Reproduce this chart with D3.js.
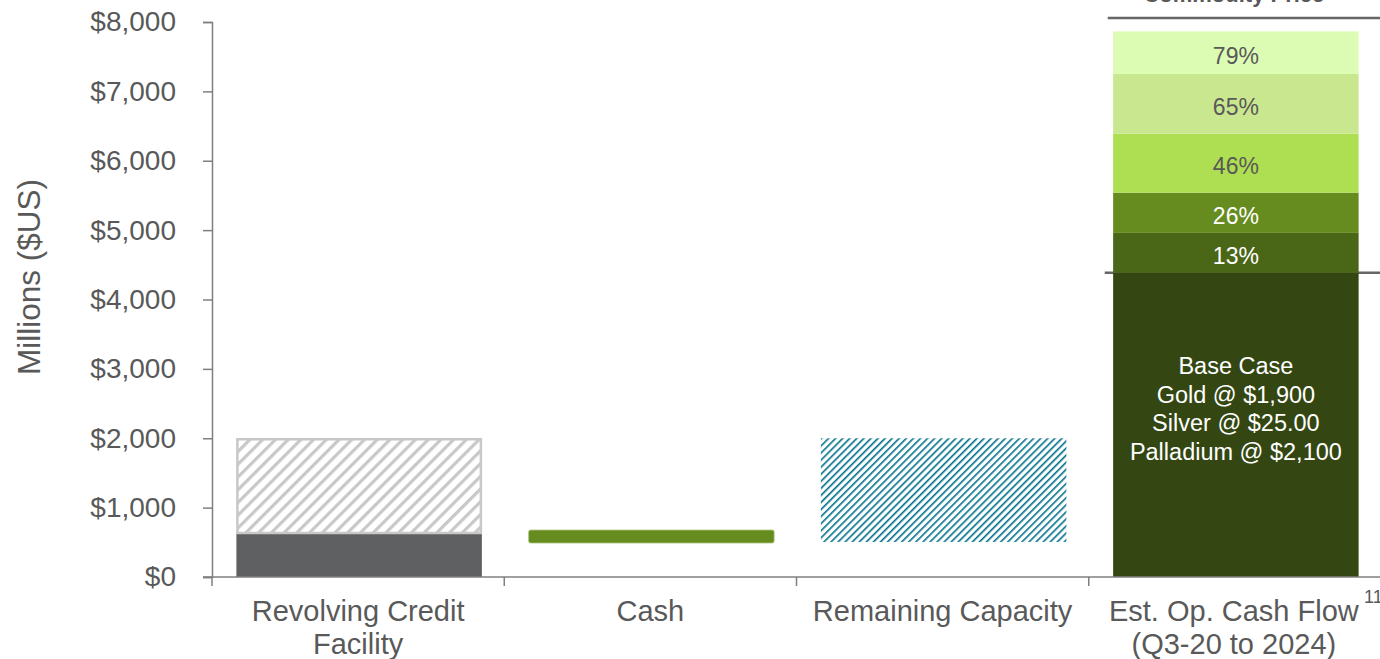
<!DOCTYPE html>
<html>
<head>
<meta charset="utf-8">
<script src="https://cdn.jsdelivr.net/npm/d3@7"></script>
<style>
  body { margin: 0; background: #fff; }
  svg { display: block; font-family: "Liberation Sans", Arial, sans-serif; }
</style>
</head>
<body>
<div id="chart"></div>
<script>
// categories along the bottom
const categories = ["Revolving Credit Facility", "Cash", "Remaining Capacity", "Est. Op. Cash Flow"];
const catLines = [["Revolving Credit", "Facility"], ["Cash"], ["Remaining Capacity"], ["Est. Op. Cash Flow", "(Q3-20 to 2024)"]];

// revolver: drawn part and the undrawn (hatched) part, millions
const revolverDrawn = [0, 620];
const revolverUndrawn = [620, 2000];
// cash and remaining capacity (floating)
const cashRange = [490, 677];
const capacityRange = [505, 2000];

// est. op. cash flow stack: base case then commodity price upside
const cfLabels = ["Base", "13%", "26%", "46%", "65%", "79%"];
const cfTops = [4385, 4960, 5540, 6390, 7250, 7865];
const cfColors = ["#344712", "#4a6617", "#668c1f", "#aedf52", "#c9e78f", "#dcfcb4"];
const cfText = ["#fff", "#fff", "#fff", "#595959", "#595959", "#595959"];
const baseCaseText = ["Base Case", "Gold @ $1,900", "Silver @ $25.00", "Palladium @ $2,100"];

const yTicks = [0, 1000, 2000, 3000, 4000, 5000, 6000, 7000, 8000];

const W = 1380, H = 659;
const svg = d3.select("#chart").append("svg")
    .attr("width", W).attr("height", H);

const defs = svg.append("defs");
defs.append("pattern")
    .attr("id", "grayHatch")
    .attr("patternUnits", "userSpaceOnUse")
    .attr("width", 9).attr("height", 9)
    .attr("patternTransform", "rotate(45)")
  .append("rect")
    .attr("x", 0).attr("y", 0).attr("width", 3.2).attr("height", 9)
    .attr("fill", "#c8c8c8");
defs.append("pattern")
    .attr("id", "blueHatch")
    .attr("patternUnits", "userSpaceOnUse")
    .attr("width", 5).attr("height", 5)
    .attr("patternTransform", "rotate(45)")
  .append("rect")
    .attr("x", 0).attr("y", 0).attr("width", 1.6).attr("height", 5)
    .attr("fill", "#00708a");

const y = d3.scaleLinear().domain([0, 8000]).range([577, 22]);
const x = d3.scaleBand().domain(categories).range([212, 1381]).padding(0);
const barPad = 0.08;
const bx = d => x(d) + x.bandwidth() * barPad + 1;
const bw = x.bandwidth() * (1 - 2 * barPad);

const axisColor = "#7f7f7f";
const textColor = "#595959";

// y axis
const yAxis = svg.append("g")
    .attr("transform", "translate(212,0)")
    .call(d3.axisLeft(y).tickValues(yTicks).tickSize(9).tickPadding(27)
        .tickFormat(d => "$" + d3.format(",")(d)));
yAxis.select(".domain").attr("stroke", axisColor).attr("stroke-width", 1.5);
yAxis.selectAll(".tick line").attr("stroke", axisColor).attr("stroke-width", 1.5);
yAxis.selectAll("text").attr("fill", textColor).style("font-size", "28px")
    .style("font-family", "Liberation Sans, Arial, sans-serif");

svg.append("text")
    .attr("transform", "translate(29,277) rotate(-90)")
    .attr("text-anchor", "middle")
    .attr("dy", "0.35em")
    .attr("fill", textColor)
    .style("font-size", "31.5px")
    .text("Millions ($US)");

// reference lines on the right column
const colX = x(categories[3]);
svg.append("line")
    .attr("x1", colX + 19).attr("x2", W)
    .attr("y1", 18).attr("y2", 18)
    .attr("stroke", "#666").attr("stroke-width", 2.5);
svg.append("line")
    .attr("x1", colX + 16).attr("x2", W)
    .attr("y1", y(cfTops[0])).attr("y2", y(cfTops[0]))
    .attr("stroke", "#666").attr("stroke-width", 2.5);
svg.append("text")
    .attr("x", bx(categories[3]) + bw / 2 - 2).attr("y", 2)
    .attr("text-anchor", "middle")
    .attr("fill", textColor)
    .style("font-size", "22px").style("font-weight", "bold")
    .text("Commodity Price");

// revolver
svg.append("rect")
    .attr("x", bx(categories[0])).attr("width", bw)
    .attr("y", y(revolverDrawn[1])).attr("height", y(revolverDrawn[0]) - y(revolverDrawn[1]))
    .attr("fill", "#5f6062");
svg.append("rect")
    .attr("x", bx(categories[0]) + 1).attr("width", bw - 2)
    .attr("y", y(revolverUndrawn[1]) + 1).attr("height", y(revolverUndrawn[0]) - y(revolverUndrawn[1]) - 2)
    .attr("fill", "url(#grayHatch)")
    .attr("stroke", "#c8c8c8").attr("stroke-width", 2.5);

// cash
svg.append("rect")
    .attr("x", bx(categories[1])).attr("width", bw)
    .attr("y", y(cashRange[1])).attr("height", y(cashRange[0]) - y(cashRange[1]))
    .attr("rx", 2)
    .attr("fill", "#668c1f")
    .attr("stroke", "#a9c47a").attr("stroke-width", 0.8);

// remaining capacity
svg.append("rect")
    .attr("x", bx(categories[2])).attr("width", bw)
    .attr("y", y(capacityRange[1])).attr("height", y(capacityRange[0]) - y(capacityRange[1]))
    .attr("fill", "url(#blueHatch)");

// est. op. cash flow stack
const cfData = cfTops.map((t, i) => ({
    label: cfLabels[i], lo: i === 0 ? 0 : cfTops[i - 1], hi: t,
    color: cfColors[i], text: cfText[i]
}));
svg.selectAll(".cf")
    .data(cfData)
    .enter().append("rect")
    .attr("class", "cf")
    .attr("x", bx(categories[3])).attr("width", bw)
    .attr("y", d => y(d.hi))
    .attr("height", d => y(d.lo) - y(d.hi))
    .attr("fill", d => d.color);
svg.selectAll(".cfl")
    .data(cfData.slice(1))
    .enter().append("text")
    .attr("class", "cfl")
    .attr("x", bx(categories[3]) + bw / 2)
    .attr("y", d => (y(d.lo) + y(d.hi)) / 2 + 3)
    .attr("dy", "0.35em")
    .attr("text-anchor", "middle")
    .attr("fill", d => d.text)
    .style("font-size", "23px")
    .text(d => d.label);
svg.selectAll(".bct")
    .data(baseCaseText)
    .enter().append("text")
    .attr("class", "bct")
    .attr("x", bx(categories[3]) + bw / 2)
    .attr("y", (d, i) => 366 + i * 28.5)
    .attr("dy", "0.35em")
    .attr("text-anchor", "middle")
    .attr("fill", "#fff")
    .style("font-size", "23.5px")
    .text(d => d);

// x axis with ticks at band edges
const xg = svg.append("g");
xg.append("line")
    .attr("x1", 203).attr("x2", W)
    .attr("y1", 577).attr("y2", 577)
    .attr("stroke", axisColor).attr("stroke-width", 1.5);
const edges = categories.map(c => x(c)).concat([x(categories[3]) + x.bandwidth()]);
xg.selectAll(".xt")
    .data(edges)
    .enter().append("line")
    .attr("x1", d => d).attr("x2", d => d)
    .attr("y1", 577).attr("y2", 586)
    .attr("stroke", axisColor).attr("stroke-width", 1.5);

const labels = svg.selectAll(".xl")
    .data(categories)
    .enter().append("text")
    .attr("class", "xl")
    .attr("x", d => x(d) + x.bandwidth() / 2)
    .attr("y", 621)
    .attr("text-anchor", "middle")
    .attr("fill", textColor)
    .style("font-size", "29px");
labels.each(function(d, i) {
    d3.select(this).selectAll("tspan")
        .data(catLines[i])
        .enter().append("tspan")
        .attr("x", x(d) + x.bandwidth() / 2 - (i === 3 ? 1 : 0))
        .attr("dy", (t, j) => j === 0 ? 0 : 33)
        .text(t => t);
});
svg.append("text")
    .attr("x", 1364).attr("y", 603)
    .attr("fill", textColor)
    .style("font-size", "18px")
    .text("11");
</script>
</body>
</html>
